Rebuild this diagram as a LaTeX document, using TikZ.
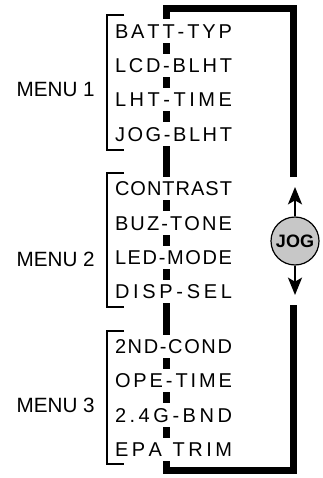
\documentclass[tikz,border=0pt]{standalone}
\usepackage{fontspec}
\setmainfont{Liberation Sans}
\usetikzlibrary{positioning,arrows.meta}

\tikzset{
  menuitem/.style={fill=white, inner xsep=0pt, inner ysep=3.4pt, outer sep=0pt, text height=10.74pt, text depth=0pt, anchor=west, font=\fontsize{15}{16}\selectfont},
  menulabel/.style={anchor=east, inner sep=0pt, font=\fontsize{15.5}{16}\selectfont},
  menubracket/.style={line width=0.9pt},
  loopline/.style={line width=5.25pt, line join=miter},
  jogbutton/.style={circle, draw, line width=0.9pt, fill=black!22, minimum size=36pt, inner sep=0pt, font=\bfseries\fontsize{13.5}{13.5}\selectfont},
  jogarrow/.style={line width=1.7pt, -{Stealth[length=13pt,width=10.5pt,inset=3pt]}}
}
% spread the letters of an item over the full item width
\newcommand{\spreadword}[1]{\makebox[87.75pt][s]{\spaceskip=0pt plus 1fil\xspaceskip=0pt plus 1fil\relax #1}}

\begin{document}
\begin{tikzpicture}[x=0.75pt, y=-0.75pt, node distance=8.25pt]
    \useasboundingbox (0,0) rectangle (322,478);

    % the endless loop through all menus
    \coordinate (looptop) at (293,177);
    \coordinate (loopbottom) at (293,305);
    \draw[loopline] (looptop) -- (293,9) -- (166.5,9) -- (166.5,470) -- (293,470) -- (loopbottom);

    % MENU 1
    \node (batt) [menuitem] at (115,31) {\spreadword{B A T T - T Y P}};
    \node (lcd) [menuitem, below=of batt] {\spreadword{L C D - B L H T}};
    \node (lht) [menuitem, below=of lcd] {\spreadword{L H T - T I M E}};
    \node (jogblht) [menuitem, below=of lht] {\spreadword{J O G - B L H T}};

    % MENU 2
    \node (contrast) [menuitem, below=23.3pt of jogblht] {\spreadword{C O N T R A S T}};
    \node (buz) [menuitem, below=of contrast] {\spreadword{B U Z - T O N E}};
    \node (led) [menuitem, below=of buz] {\spreadword{L E D - M O D E}};
    \node (disp) [menuitem, below=of led] {\spreadword{D I S P - S E L}};

    % MENU 3
    \node (cond) [menuitem, below=23.3pt of disp] {\spreadword{2 N D - C O N D}};
    \node (ope) [menuitem, below=of cond] {\spreadword{O P E - T I M E}};
    \node (band) [menuitem, below=of ope] {\spreadword{2 . 4 G - B N D}};
    \node (epa) [menuitem, below=of band] {\spreadword{E P A \ \ T R I M}};

    \draw[menubracket] (124,15) -- (107,15) -- (107,150) -- (124,150);
    \draw[menubracket] (124,173) -- (107,173) -- (107,307) -- (124,307);
    \draw[menubracket] (124,331) -- (107,331) -- (107,464) -- (124,464);

    \node (menua) [menulabel] at (95,89) {MENU 1};
    \node (menub) [menulabel] at (95,259) {MENU 2};
    \node (menuc) [menulabel] at (95,405) {MENU 3};

    % jog button
    \node (jog) [jogbutton] at (295,241) {JOG};
    \coordinate (uptip) at (295,187);
    \coordinate (downtip) at (295,295);
    \draw[jogarrow] (jog) -- (uptip);
    \draw[jogarrow] (jog) -- (downtip);
\end{tikzpicture}
\end{document}
